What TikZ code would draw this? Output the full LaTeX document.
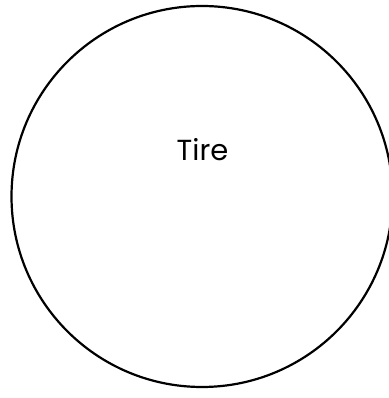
\documentclass[tikz,border=0pt]{standalone}
\usepackage{fontspec}
\setmainfont{Poppins}
\begin{document}
\begin{tikzpicture}[x=1pt,y=1pt,
  tireshape/.style={draw=black,line width=2.2pt,circle,minimum size=381pt,inner sep=0pt},
  lbl/.style={font=\fontsize{29}{34}\selectfont,inner sep=0pt,anchor=base}]
\useasboundingbox (0,0) rectangle (388,398);
\node[tireshape] (tire) at (202,201.5) {};
\node[lbl] (tirelabel) at (202.5,237) {Tire};
\end{tikzpicture}
\end{document}
